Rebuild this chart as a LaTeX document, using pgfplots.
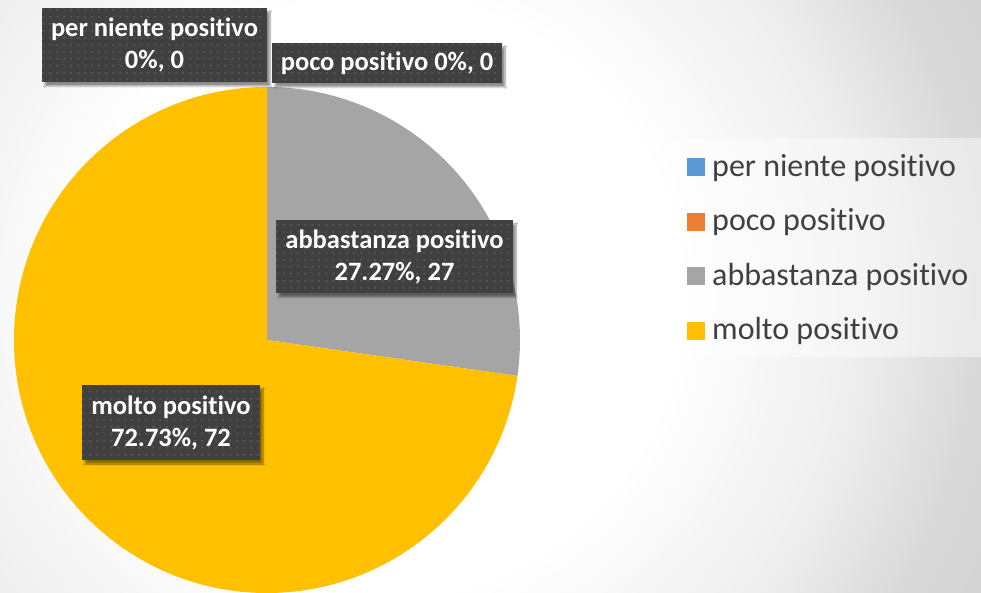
\documentclass[border=0pt]{standalone}
\usepackage{pgfplots}
\pgfplotsset{compat=1.18}
\usepackage{fontspec}
\setmainfont[Ligatures=NoCommon]{Carlito}
\usetikzlibrary{patterns.meta,shadows.blur}

\definecolor{cBlue}{HTML}{5B9BD5}
\definecolor{cOrange}{HTML}{ED7D31}
\definecolor{cGray}{HTML}{A5A5A5}
\definecolor{cYellow}{HTML}{FFC000}
\definecolor{boxc}{HTML}{404040}
\definecolor{dotc}{HTML}{585858}
\definecolor{legtext}{HTML}{404040}

% background: soft radial gradient, white left of centre, grey to the right
\pgfdeclareradialshading{bgshade}{\pgfpoint{0bp}{0bp}}{%
  color(0bp)=(white); color(10.7bp)=(white); color(17.1bp)=(black!6.5);
  color(21.4bp)=(black!15); color(24.3bp)=(black!17); color(50bp)=(black!17)}

\tikzdeclarepattern{
  name=labeldots, type=uncolored,
  bounding box={(0pt,0pt) and (6.7pt,6.7pt)},
  tile size={(6.7pt,6.7pt)},
  code={\fill (2.35pt,2.35pt) rectangle (4.35pt,4.35pt);}
}

\tikzset{
  lbl/.style={fill=boxc, postaction={pattern=labeldots, pattern color=dotc},
    blur shadow={shadow xshift=3pt, shadow yshift=-4pt, shadow blur steps=6, shadow opacity=45},
    text=white, font=\fontsize{26.5}{32}\selectfont\bfseries,
    align=center, inner sep=0pt}
}
% legend swatch: 18px square sitting on the baseline
\newcommand{\swatch}[1]{{\color{#1}\rule{18pt}{18pt}}\hspace{7pt}}

\begin{document}
\begin{tikzpicture}
\useasboundingbox (0,0) rectangle (981pt,592pt);
\begin{axis}[
    at={(0,0)}, anchor=south west,
    scale only axis,
    width=981pt, height=592pt,
    xmin=0, xmax=981, ymin=0, ymax=592,
    enlargelimits=false,
    hide axis,
    legend cell align=left,
    legend image code/.code={},
    legend style={
        at={(axis cs:687,454)}, anchor=north west,
        draw=none, fill=none,
        inner xsep=0pt, inner ysep=13pt,
        row sep=25.6pt, column sep=0pt,
        font=\fontsize{32}{36}\selectfont, text=legtext,
        nodes={inner sep=0pt, text height=25pt, text depth=4pt},
    },
]
    % background
    \shade[shading=bgshade] (axis cs:380,296) circle[radius=700pt];
    \fill[white, opacity=0.45] (axis cs:672,235) rectangle (axis cs:990,454);

    % pie: per niente 0, poco 0, abbastanza 27 (27.27%), molto 72 (72.73%)
    \fill[cGray] (axis cs:267,252) -- ++({90-27.27*3.6}:253pt)
        arc[start angle={90-27.27*3.6}, end angle=90, radius=253pt] -- cycle;
    \fill[cYellow] (axis cs:267,252) -- ++(90:253pt)
        arc[start angle=90, end angle={90+72.73*3.6}, radius=253pt] -- cycle;

    % data labels
    \node[lbl, minimum width=225pt, minimum height=74pt] at (axis cs:154.5,547)
        {per niente positivo\\0\%, 0};
    \node[lbl, minimum width=230pt, minimum height=40pt] at (axis cs:387,529)
        {poco positivo 0\%, 0};
    \node[lbl, minimum width=237pt, minimum height=73pt] at (axis cs:394.5,335.5)
        {abbastanza positivo\\27.27\%, 27};
    \node[lbl, minimum width=178pt, minimum height=75pt] at (axis cs:171,169.5)
        {molto positivo\\72.73\%, 72};

    \addlegendimage{fill=cBlue}
    \addlegendentry{\swatch{cBlue}per niente positivo}
    \addlegendimage{fill=cOrange}
    \addlegendentry{\swatch{cOrange}poco positivo}
    \addlegendimage{fill=cGray}
    \addlegendentry{\swatch{cGray}abbastanza positivo}
    \addlegendimage{fill=cYellow}
    \addlegendentry{\swatch{cYellow}molto positivo}
\end{axis}
\end{tikzpicture}
\end{document}
